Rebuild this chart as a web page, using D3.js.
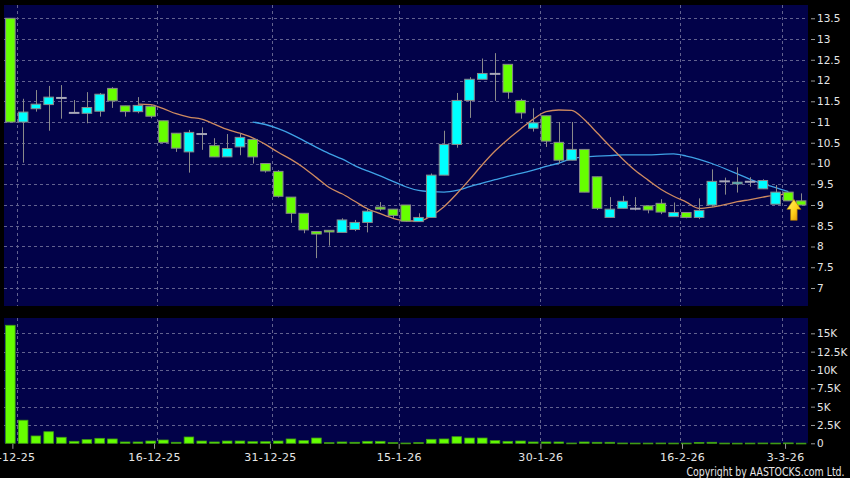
<!DOCTYPE html>
<html><head><meta charset="utf-8">
<script src="https://cdn.jsdelivr.net/npm/d3@7"></script>
<style>html,body{margin:0;padding:0;background:#000;overflow:hidden}svg{display:block}</style>
</head><body><svg id="c" width="850" height="478"></svg>
<script>
// ---- data ----
const dates = ["28-11-25","1-12-25","2-12-25","3-12-25","4-12-25","5-12-25","8-12-25","9-12-25","10-12-25","11-12-25","12-12-25","15-12-25","16-12-25","17-12-25","18-12-25","19-12-25","22-12-25","23-12-25","24-12-25","29-12-25","30-12-25","31-12-25","2-1-26","5-1-26","6-1-26","7-1-26","8-1-26","9-1-26","12-1-26","13-1-26","14-1-26","15-1-26","16-1-26","19-1-26","20-1-26","21-1-26","22-1-26","23-1-26","26-1-26","27-1-26","28-1-26","29-1-26","30-1-26","2-2-26","3-2-26","4-2-26","5-2-26","6-2-26","9-2-26","10-2-26","11-2-26","12-2-26","13-2-26","16-2-26","20-2-26","23-2-26","24-2-26","25-2-26","26-2-26","27-2-26","2-3-26","3-3-26","4-3-26"];
const opens  = [13.50,11.00,11.32,11.42,11.58,11.22,11.21,11.26,11.81,11.39,11.25,11.38,11.03,10.73,10.28,10.71,10.43,10.16,10.40,10.58,10.00,9.81,9.19,8.80,8.36,8.39,8.34,8.41,8.58,8.95,8.90,9.00,8.60,8.70,9.72,10.46,11.52,12.03,12.16,12.39,11.52,10.85,11.15,10.51,10.08,10.34,9.68,8.70,8.92,8.91,8.98,9.04,8.72,8.82,8.70,9.00,9.57,9.51,9.56,9.39,9.02,9.31,9.10];
const highs  = [13.50,11.56,11.77,11.87,11.89,11.53,11.72,11.70,11.84,11.39,11.60,11.40,11.03,10.73,10.81,10.87,10.61,10.71,10.73,10.58,10.00,9.84,9.19,8.80,8.36,8.39,8.68,8.64,8.91,9.07,8.90,9.00,8.80,9.76,10.79,11.70,12.08,12.53,12.66,12.39,11.56,11.33,11.15,11.00,11.00,10.34,9.68,9.19,9.22,9.19,8.98,9.14,9.06,8.82,9.16,9.86,9.66,9.91,9.67,9.62,9.48,9.31,9.28];
const lows   = [11.00,10.02,11.25,10.79,11.08,11.22,10.97,11.13,11.34,11.13,11.21,11.09,10.51,10.28,9.78,10.33,10.16,10.16,10.20,10.00,9.78,9.18,8.57,8.32,7.72,8.02,8.34,8.37,8.34,8.86,8.69,8.60,8.59,8.70,9.72,10.38,11.10,12.03,11.51,11.56,11.08,10.77,10.40,10.00,10.08,9.31,8.88,8.70,8.92,8.87,8.80,8.78,8.72,8.68,8.66,8.96,9.25,9.30,9.44,9.39,9.02,9.10,9.00];
const closes = [11.00,11.24,11.43,11.60,11.58,11.22,11.35,11.67,11.51,11.25,11.40,11.14,10.51,10.37,10.75,10.71,10.16,10.36,10.63,10.16,9.82,9.21,8.80,8.40,8.30,8.35,8.64,8.58,8.85,8.90,8.75,8.61,8.70,9.72,10.46,11.52,12.03,12.17,12.16,11.72,11.22,10.98,10.54,10.08,10.34,9.31,8.92,8.90,9.09,8.91,8.88,8.83,8.82,8.70,8.87,9.57,9.57,9.55,9.56,9.59,9.31,9.10,9.00];
const volumes = [16100,3150,1000,1580,820,270,500,680,590,180,180,310,450,140,860,310,180,310,310,220,220,310,590,360,720,90,180,140,270,270,90,40,90,545,590,900,720,720,360,270,310,180,180,180,40,180,140,140,40,30,30,40,30,30,120,140,30,20,30,40,30,50,20];
const ma10Start = 10;
const ma10 = [11.43,11.42,11.32,11.20,11.12,11.07,10.95,10.82,10.73,10.62,10.46,10.27,10.10,9.90,9.66,9.42,9.27,9.09,8.91,8.79,8.68,8.62,8.61,8.74,8.96,9.27,9.61,9.97,10.30,10.58,10.83,11.07,11.25,11.29,11.28,11.06,10.74,10.42,10.11,9.83,9.60,9.38,9.21,9.07,8.92,8.95,9.01,9.08,9.13,9.19,9.24,9.26];
const ma20Start = 19;
const ma20 = [11.00,10.94,10.84,10.71,10.55,10.39,10.24,10.11,9.95,9.82,9.70,9.57,9.44,9.35,9.32,9.31,9.35,9.44,9.53,9.61,9.69,9.76,9.84,9.93,10.01,10.12,10.16,10.18,10.19,10.21,10.21,10.21,10.22,10.23,10.18,10.10,10.00,9.88,9.75,9.62,9.51,9.42,9.32];
const priceTicks = [7,7.5,8,8.5,9,9.5,10,10.5,11,11.5,12,12.5,13,13.5];
const volumeTicks = [0,2500,5000,7500,10000,12500,15000];
const dateTicks = ["1-12-25","16-12-25","31-12-25","15-1-26","30-1-26","16-2-26","3-3-26"];

// ---- layout ----
const svg = d3.select("#c");
const plotL = 4, plotR = 807.5;
const pTop = 5, pBot = 306, vTop = 318, vBot = 443.3;
const bgCol = "#020249", gridCol = "#62628f";
const upCol = "#00ffff", downCol = "#66ff00", edgeCol = "#8a8a8a";

const x = d3.scaleBand().domain(dates).range([plotL, plotR]).paddingInner(0.17).paddingOuter(0.085);
const step = x.step();
const xc = d => x(d) + x.bandwidth() / 2;
const slotEdge = d => xc(d) - step / 2;
const xa = d3.scalePoint().domain(dates).range([-0.5, -0.5 + 62 * 12.878]);
const y = d3.scaleLinear().domain([6.566, 13.82]).range([pBot, pTop]);
const yv = d3.scaleLinear().domain([0, 17090]).range([vBot, vTop]);

// backgrounds
svg.append("rect").attr("width", 850).attr("height", 478).attr("fill", "#000");
svg.append("rect").attr("x", plotL).attr("y", pTop).attr("width", plotR - plotL + 0.5).attr("height", pBot - pTop).attr("fill", bgCol);
svg.append("rect").attr("x", plotL).attr("y", vTop).attr("width", plotR - plotL + 0.5).attr("height", vBot - vTop).attr("fill", bgCol);

// grid
const g = svg.append("g").attr("stroke", gridCol).attr("stroke-width", 1).attr("stroke-dasharray", "3,3").attr("shape-rendering", "crispEdges");
g.selectAll(".hp").data(priceTicks).join("line").attr("x1", plotL).attr("x2", plotR).attr("y1", d => Math.round(y(d)) + 0.5).attr("y2", d => Math.round(y(d)) + 0.5);
g.selectAll(".hv").data(volumeTicks.filter(d => d > 0)).join("line").attr("class", "hv").attr("x1", plotL).attr("x2", plotR).attr("y1", d => Math.round(yv(d)) + 0.5).attr("y2", d => Math.round(yv(d)) + 0.5);
dateTicks.forEach(d => {
  const xx = Math.round(slotEdge(d)) + 0.5;
  g.append("line").attr("x1", xx).attr("x2", xx).attr("y1", pTop).attr("y2", pBot);
  g.append("line").attr("x1", xx).attr("x2", xx).attr("y1", vTop).attr("y2", vBot);
});

// moving averages
const line = d3.line().curve(d3.curveMonotoneX).x(p => p[0]).y(p => p[1]);
const ma10Pts = ma10.map((v, i) => [xc(dates[i + ma10Start]), y(v)]);
const ma20Pts = ma20.map((v, i) => [xc(dates[i + ma20Start]), y(v)]);
svg.append("path").attr("d", line(ma20Pts)).attr("fill", "none").attr("stroke", "#3fa2e6").attr("stroke-width", 1.3);
svg.append("path").attr("d", line(ma10Pts)).attr("fill", "none").attr("stroke", "#cf8b60").attr("stroke-width", 1.3);

// candles
const idx = d3.range(dates.length);
svg.append("g").selectAll("line").data(idx).join("line")
  .attr("x1", i => Math.round(xc(dates[i])) + 0.5).attr("x2", i => Math.round(xc(dates[i])) + 0.5)
  .attr("y1", i => y(highs[i])).attr("y2", i => y(lows[i]))
  .attr("stroke", edgeCol).attr("stroke-width", 1);
const bw = x.bandwidth();
svg.append("g").selectAll("rect").data(idx.filter(i => opens[i] !== closes[i])).join("rect")
  .attr("x", i => x(dates[i]) + 0.5).attr("width", bw - 1)
  .attr("y", i => y(Math.max(opens[i], closes[i]))).attr("height", i => Math.max(1, Math.abs(y(opens[i]) - y(closes[i]))))
  .attr("fill", i => closes[i] > opens[i] ? upCol : downCol)
  .attr("stroke", edgeCol).attr("stroke-width", 1);
svg.append("g").selectAll("line").data(idx.filter(i => opens[i] === closes[i])).join("line")
  .attr("x1", i => x(dates[i])).attr("x2", i => x(dates[i]) + bw)
  .attr("y1", i => y(closes[i])).attr("y2", i => y(closes[i]))
  .attr("stroke", "#a8a8b8").attr("stroke-width", 2);

// arrow marker under the latest signal
const last = dates.length - 2;
const ax = xc(dates[last]) + 5.5, ay = y(closes[last]) - 1.5;
const defs = svg.append("defs");
const gr = defs.append("linearGradient").attr("id", "ag").attr("x1", 0).attr("y1", 0).attr("x2", 1).attr("y2", 1);
gr.append("stop").attr("offset", "0%").attr("stop-color", "#fff36a");
gr.append("stop").attr("offset", "55%").attr("stop-color", "#ffd21a");
gr.append("stop").attr("offset", "100%").attr("stop-color", "#d88a00");
svg.append("path")
  .attr("d", `M${ax},${ay} L${ax + 7},${ay + 10} L${ax + 3.3},${ay + 10} L${ax + 3.3},${ay + 21} L${ax - 3.3},${ay + 21} L${ax - 3.3},${ay + 10} L${ax - 7},${ay + 10} Z`)
  .attr("fill", "url(#ag)").attr("stroke", "#b07800").attr("stroke-width", 0.6);

// volume bars
svg.append("g").selectAll("rect").data(idx).join("rect")
  .attr("x", i => x(dates[i]) + 0.5).attr("width", bw - 1)
  .attr("y", i => yv(volumes[i])).attr("height", i => Math.max(0.8, yv(0) - yv(volumes[i])))
  .attr("fill", downCol).attr("stroke", "#3f9a14").attr("stroke-width", 0.8);

// axes
const font = "DejaVu Sans, Verdana, sans-serif";
function styleAxis(sel, size) {
  sel.select(".domain").remove();
  sel.selectAll(".tick line").attr("stroke", "#9a9a9a");
  sel.selectAll(".tick text").attr("fill", "#e6e6e6").attr("font-family", font).attr("font-size", size);
}
const ya = svg.append("g").attr("transform", "translate(811,0)")
  .call(d3.axisRight(y).tickValues(priceTicks).tickSize(4).tickPadding(2).tickFormat(d3.format("")));
styleAxis(ya, "10.5px");
const va = svg.append("g").attr("transform", "translate(811,0)")
  .call(d3.axisRight(yv).tickValues(volumeTicks).tickSize(4).tickPadding(2).tickFormat(d => d === 0 ? "0" : (d / 1000) + "K"));
styleAxis(va, "10.5px");
const xaG = svg.append("g").attr("transform", `translate(0,${vBot + 0.5})`)
  .call(d3.axisBottom(xa).tickValues(dateTicks).tickSize(5).tickPadding(4));
styleAxis(xaG, "11px");
xaG.selectAll(".tick text").attr("letter-spacing", "0.3px");

svg.append("text").attr("x", 844.5).attr("y", 475.5).attr("text-anchor", "end")
  .attr("font-family", font).attr("font-size", "12px").attr("fill", "#e6e6e6")
  .attr("textLength", 158).attr("lengthAdjust", "spacingAndGlyphs")
  .text("Copyright by AASTOCKS.com Ltd.");
</script></body></html>
